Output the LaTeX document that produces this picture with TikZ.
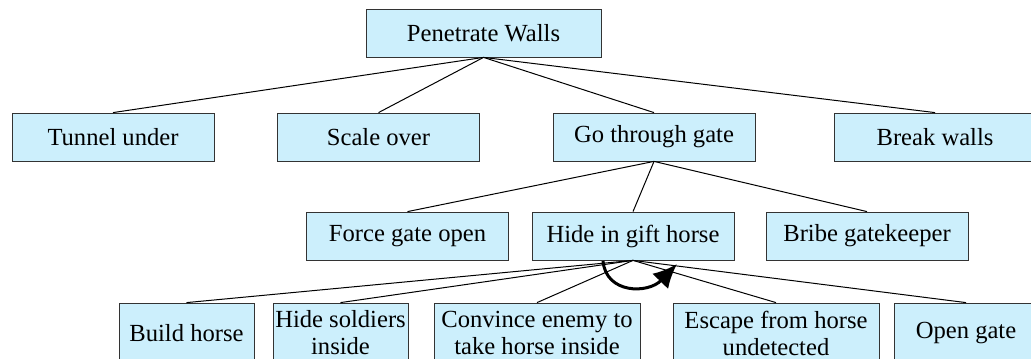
\documentclass[tikz,border=0pt]{standalone}
\usepackage{fontspec}
\setmainfont{Liberation Serif}
\usepackage{xcolor}
\usetikzlibrary{arrows.meta}
\definecolor{boxfill}{RGB}{204,239,252}

\begin{document}
\begin{tikzpicture}[x=0.5pt,y=-0.5pt,
    goal/.style={draw=black!80, fill=boxfill, inner sep=0pt, minimum width=101pt,
        minimum height=24pt, align=center, font=\fontsize{12.3}{13.5}\selectfont},
    link/.style={black, line width=0.5pt}]
            % Fix the page
            \useasboundingbox (0,0) rectangle (1031,358);
            \clip (0,0) rectangle (1031,358);

            % Top goal
            \node[goal, minimum width=117.5pt] (walls) at (483.5,33) {Penetrate Walls};

            % First level
            \node[goal] (tunnel) at (113,137) {Tunnel under};
            \node[goal] (scale) at (378.5,137) {Scale over};
            \node[goal] (gate) at (654,137) {Go through gate};
            \node[goal] (break) at (935,137) {Break walls};

            % Second level
            \node[goal] (force) at (407.5,236) {Force gate open};
            \node[goal] (horse) at (633,236) {Hide in gift horse};
            \node[goal] (bribe) at (867,236) {Bribe gatekeeper};

            % Third level
            \node[goal, minimum width=67.5pt, minimum height=30pt] (build) at (186.5,333) {Build horse};
            \node[goal, minimum width=67.5pt, minimum height=30pt] (soldiers) at (340.5,333) {Hide soldiers\\inside};
            \node[goal, minimum width=103pt, minimum height=30pt] (convince) at (537,333) {Convince enemy to\\take horse inside};
            \node[goal, minimum width=103pt, minimum height=30pt] (escape) at (776,333) {Escape from horse\\undetected};
            \node[goal, minimum width=72pt, minimum height=30pt] (open) at (966,333) {Open gate};

            % Connect the tree
            \foreach \c in {tunnel,scale,gate,break}
            {
                \draw[link] (walls.south) -- (\c.north);
            }
            \foreach \c in {force,horse,bribe}
            {
                \draw[link] (gate.south) -- (\c.north);
            }
            \foreach \c in {build,soldiers,convince,escape,open}
            {
                \draw[link] (horse.south) -- (\c.north);
            }

            % Sequence arrow under the horse
            \coordinate (seqstart) at (603,261);
            \coordinate (seqend) at (677,264);
            \draw[line width=1.5pt, -{Latex[length=12pt,width=11pt]}]
                (seqstart) .. controls (606,294) and (648,294) .. (seqend);
        \end{tikzpicture}
\end{document}
